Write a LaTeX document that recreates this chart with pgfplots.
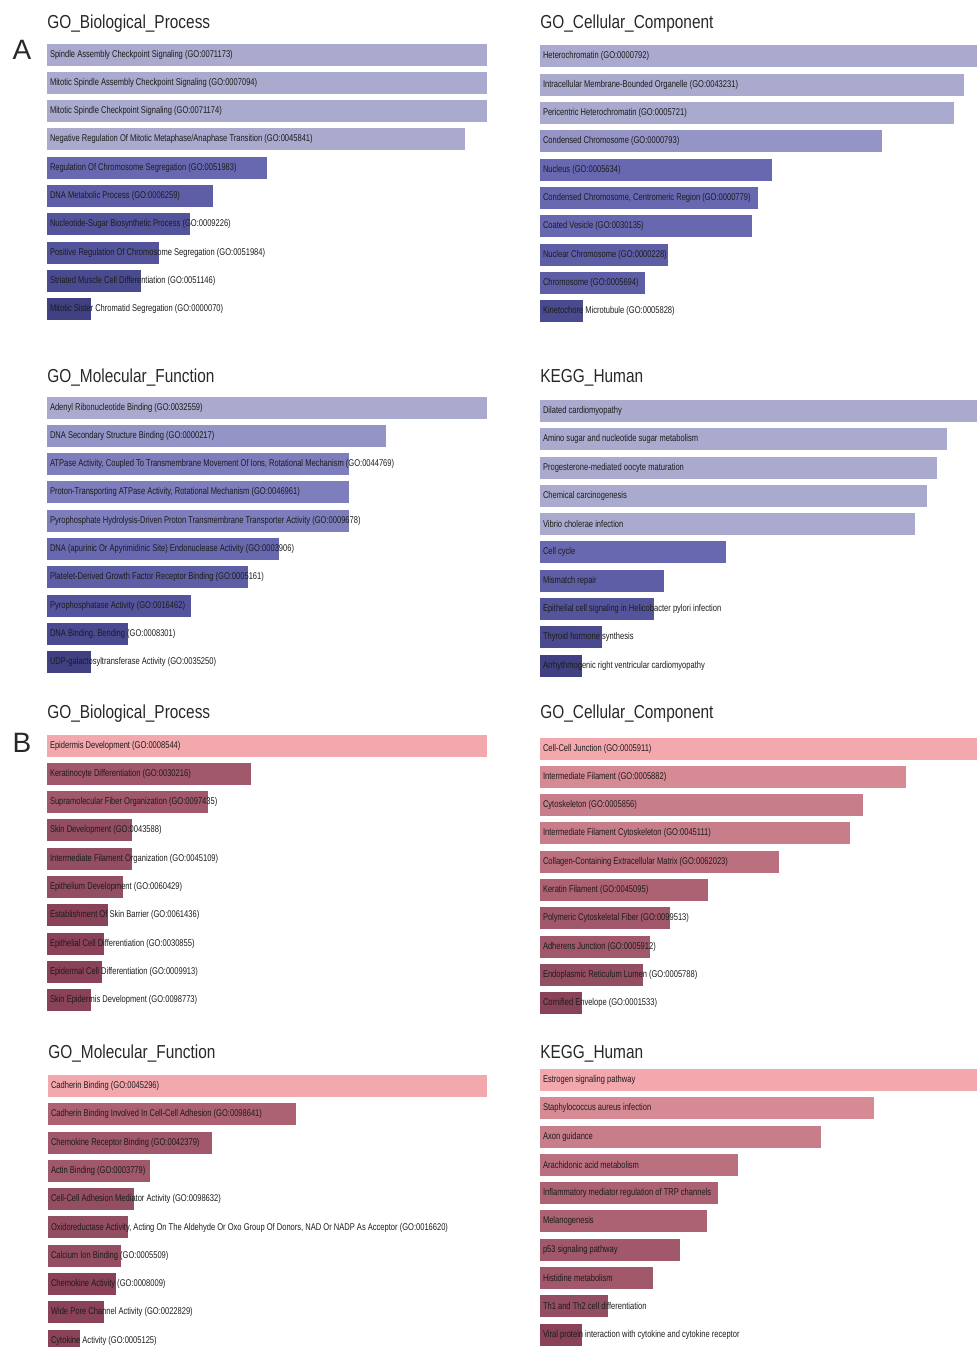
\documentclass[border=0pt]{standalone}
\usepackage{fontspec}
\setmainfont{Liberation Sans}
\newfontfamily\condfont[FakeStretch=0.82]{Liberation Sans}
\newfontfamily\narrowfont[FakeStretch=0.77]{Liberation Sans}
\usepackage{pgfplots}
\pgfplotsset{compat=1.18}

% lavender scale (set A) and rose scale (set B), light to dark
\definecolor{a1}{RGB}{170,170,206}
\definecolor{a2}{RGB}{148,148,198}
\definecolor{a3}{RGB}{126,126,188}
\definecolor{a4}{RGB}{104,104,176}
\definecolor{a5}{RGB}{94,94,166}
\definecolor{a6}{RGB}{84,84,156}
\definecolor{a7}{RGB}{74,74,144}
\definecolor{a8}{RGB}{64,64,130}
\definecolor{b1}{RGB}{243,168,174}
\definecolor{b2}{RGB}{214,138,148}
\definecolor{b3}{RGB}{200,125,138}
\definecolor{b4}{RGB}{186,112,126}
\definecolor{b5}{RGB}{172,98,114}
\definecolor{b6}{RGB}{160,88,106}
\definecolor{b7}{RGB}{148,78,98}
\definecolor{b8}{RGB}{138,66,88}
\definecolor{lbl}{RGB}{28,28,28}
\definecolor{ttl}{RGB}{40,40,40}

% one horizontal bar: row, value, colour
\newcommand{\hb}[3]{\addplot[xbar, bar width=11pt, bar shift=0pt, draw=none, fill=#3] coordinates {(#2,#1)};}

\pgfplotsset{
  enr/.style={
    scale only axis, anchor=north west,
    height=141.5pt,
    xmin=0, ymin=0.5, ymax=10.5, y dir=reverse,
    axis line style={draw=none}, axis on top,
    xtick=\empty, ytick={1,...,10}, major tick length=0pt,
    yticklabel style={anchor=west, inner sep=0pt, xshift=1.3pt,
      font=\narrowfont\fontsize{4.9}{5.2}\selectfont, text=lbl},
    every axis title shift=0pt,
    title style={at={(0,1)}, anchor=base west, inner sep=0pt,
      font=\condfont\fontsize{9.4}{11}\selectfont, text=ttl},
  },
  left/.style={enr, width=220pt, xmax=440},
  right/.style={enr, width=218.5pt, xmax=437},
}

\begin{document}
\begin{tikzpicture}
\path[use as bounding box] (0,0) rectangle (488.5pt,-673.5pt);

\node[font=\fontsize{14}{14}\selectfont, text=ttl] at (11pt,-25pt) {A};
\node[font=\fontsize{14}{14}\selectfont, text=ttl] at (11pt,-371.5pt) {B};

% ---------- A: GO Biological Process ----------
\begin{axis}[left, at={(23.5pt,-20.2pt)},
  title={GO\_Biological\_Process}, title style={yshift=5.8pt},
  yticklabels={
    Spindle Assembly Checkpoint Signaling (GO:0071173),
    Mitotic Spindle Assembly Checkpoint Signaling (GO:0007094),
    Mitotic Spindle Checkpoint Signaling (GO:0071174),
    Negative Regulation Of Mitotic Metaphase/Anaphase Transition (GO:0045841),
    Regulation Of Chromosome Segregation (GO:0051983),
    DNA Metabolic Process (GO:0006259),
    Nucleotide-Sugar Biosynthetic Process (GO:0009226),
    Positive Regulation Of Chromosome Segregation (GO:0051984),
    Striated Muscle Cell Differentiation (GO:0051146),
    Mitotic Sister Chromatid Segregation (GO:0000070)}]
\hb{1}{440}{a1}\hb{2}{440}{a1}\hb{3}{440}{a1}\hb{4}{418}{a1}\hb{5}{220}{a4}
\hb{6}{166}{a5}\hb{7}{143}{a6}\hb{8}{112}{a6}\hb{9}{94}{a7}\hb{10}{44}{a8}
\end{axis}

% ---------- A: GO Cellular Component ----------
\begin{axis}[right, at={(270pt,-21.15pt)},
  title={GO\_Cellular\_Component}, title style={yshift=6.8pt},
  yticklabels={
    Heterochromatin (GO:0000792),
    Intracellular Membrane-Bounded Organelle (GO:0043231),
    Pericentric Heterochromatin (GO:0005721),
    Condensed Chromosome (GO:0000793),
    Nucleus (GO:0005634),
    {Condensed Chromosome, Centromeric Region (GO:0000779)},
    Coated Vesicle (GO:0030135),
    Nuclear Chromosome (GO:0000228),
    Chromosome (GO:0005694),
    Kinetochore Microtubule (GO:0005828)}]
\hb{1}{437}{a1}\hb{2}{424}{a1}\hb{3}{414}{a1}\hb{4}{342}{a2}\hb{5}{232}{a4}
\hb{6}{218}{a4}\hb{7}{212}{a4}\hb{8}{128}{a5}\hb{9}{105}{a5}\hb{10}{43}{a7}
\end{axis}

% ---------- A: GO Molecular Function ----------
\begin{axis}[left, at={(23.5pt,-196.7pt)},
  title={GO\_Molecular\_Function}, title style={yshift=5.3pt},
  yticklabels={
    Adenyl Ribonucleotide Binding (GO:0032559),
    DNA Secondary Structure Binding (GO:0000217),
    {ATPase Activity, Coupled To Transmembrane Movement Of Ions, Rotational Mechanism (GO:0044769)},
    {Proton-Transporting ATPase Activity, Rotational Mechanism (GO:0046961)},
    Pyrophosphate Hydrolysis-Driven Proton Transmembrane Transporter Activity (GO:0009678),
    DNA (apurinic Or Apyrimidinic Site) Endonuclease Activity (GO:0003906),
    Platelet-Derived Growth Factor Receptor Binding (GO:0005161),
    Pyrophosphatase Activity (GO:0016462),
    {DNA Binding, Bending (GO:0008301)},
    UDP-galactosyltransferase Activity (GO:0035250)}]
\hb{1}{440}{a1}\hb{2}{339}{a2}\hb{3}{302}{a3}\hb{4}{302}{a3}\hb{5}{302}{a3}
\hb{6}{232}{a4}\hb{7}{201}{a5}\hb{8}{144}{a6}\hb{9}{81}{a7}\hb{10}{44}{a8}
\end{axis}

% ---------- A: KEGG Human ----------
\begin{axis}[right, at={(270pt,-198.4pt)},
  title={KEGG\_Human}, title style={yshift=7.1pt},
  yticklabels={
    Dilated cardiomyopathy,
    Amino sugar and nucleotide sugar metabolism,
    Progesterone-mediated oocyte maturation,
    Chemical carcinogenesis,
    Vibrio cholerae infection,
    Cell cycle,
    Mismatch repair,
    Epithelial cell signaling in Helicobacter pylori infection,
    Thyroid hormone synthesis,
    Arrhythmogenic right ventricular cardiomyopathy}]
\hb{1}{437}{a1}\hb{2}{407}{a1}\hb{3}{397}{a1}\hb{4}{387}{a1}\hb{5}{375}{a1}
\hb{6}{186}{a4}\hb{7}{124}{a5}\hb{8}{114}{a6}\hb{9}{62}{a7}\hb{10}{42}{a8}
\end{axis}

% ---------- B: GO Biological Process ----------
\begin{axis}[left, at={(23.5pt,-365.7pt)},
  title={GO\_Biological\_Process}, title style={yshift=6.3pt},
  yticklabels={
    Epidermis Development (GO:0008544),
    Keratinocyte Differentiation (GO:0030216),
    Supramolecular Fiber Organization (GO:0097435),
    Skin Development (GO:0043588),
    Intermediate Filament Organization (GO:0045109),
    Epithelium Development (GO:0060429),
    Establishment Of Skin Barrier (GO:0061436),
    Epithelial Cell Differentiation (GO:0030855),
    Epidermal Cell Differentiation (GO:0009913),
    Skin Epidermis Development (GO:0098773)}]
\hb{1}{440}{b1}\hb{2}{204}{b6}\hb{3}{161}{b6}\hb{4}{85}{b7}\hb{5}{85}{b7}
\hb{6}{76}{b7}\hb{7}{61}{b8}\hb{8}{57}{b8}\hb{9}{55}{b8}\hb{10}{44}{b8}
\end{axis}

% ---------- B: GO Cellular Component ----------
\begin{axis}[right, at={(270pt,-367.2pt)},
  title={GO\_Cellular\_Component}, title style={yshift=7.8pt},
  yticklabels={
    Cell-Cell Junction (GO:0005911),
    Intermediate Filament (GO:0005882),
    Cytoskeleton (GO:0005856),
    Intermediate Filament Cytoskeleton (GO:0045111),
    Collagen-Containing Extracellular Matrix (GO:0062023),
    Keratin Filament (GO:0045095),
    Polymeric Cytoskeletal Fiber (GO:0099513),
    Adherens Junction (GO:0005912),
    Endoplasmic Reticulum Lumen (GO:0005788),
    Cornified Envelope (GO:0001533)}]
\hb{1}{437}{b1}\hb{2}{366}{b2}\hb{3}{323}{b3}\hb{4}{310}{b3}\hb{5}{239}{b4}
\hb{6}{168}{b5}\hb{7}{130}{b6}\hb{8}{110}{b6}\hb{9}{103}{b7}\hb{10}{42}{b8}
\end{axis}

% ---------- B: GO Molecular Function ----------
\begin{axis}[enr, width=219.5pt, xmax=439, at={(24pt,-535.9pt)},
  title={GO\_Molecular\_Function}, title style={yshift=6.6pt},
  yticklabels={
    Cadherin Binding (GO:0045296),
    Cadherin Binding Involved In Cell-Cell Adhesion (GO:0098641),
    Chemokine Receptor Binding (GO:0042379),
    Actin Binding (GO:0003779),
    Cell-Cell Adhesion Mediator Activity (GO:0098632),
    {Oxidoreductase Activity, Acting On The Aldehyde Or Oxo Group Of Donors, NAD Or NADP As Acceptor (GO:0016620)},
    Calcium Ion Binding (GO:0005509),
    Chemokine Activity (GO:0008009),
    Wide Pore Channel Activity (GO:0022829),
    Cytokine Activity (GO:0005125)}]
\hb{1}{439}{b1}\hb{2}{248}{b5}\hb{3}{164}{b6}\hb{4}{102}{b6}\hb{5}{86}{b7}
\hb{6}{80}{b7}\hb{7}{73}{b7}\hb{8}{68}{b8}\hb{9}{56}{b8}\hb{10}{32}{b8}
\end{axis}

% ---------- B: KEGG Human ----------
\begin{axis}[right, at={(270pt,-532.9pt)},
  title={KEGG\_Human}, title style={yshift=3.6pt},
  yticklabels={
    Estrogen signaling pathway,
    Staphylococcus aureus infection,
    Axon guidance,
    Arachidonic acid metabolism,
    Inflammatory mediator regulation of TRP channels,
    Melanogenesis,
    p53 signaling pathway,
    Histidine metabolism,
    Th1 and Th2 cell differentiation,
    Viral protein interaction with cytokine and cytokine receptor}]
\hb{1}{437}{b1}\hb{2}{334}{b2}\hb{3}{281}{b3}\hb{4}{198}{b4}\hb{5}{178}{b5}
\hb{6}{167}{b5}\hb{7}{140}{b6}\hb{8}{113}{b6}\hb{9}{68}{b7}\hb{10}{42}{b8}
\end{axis}
\end{tikzpicture}
\end{document}
